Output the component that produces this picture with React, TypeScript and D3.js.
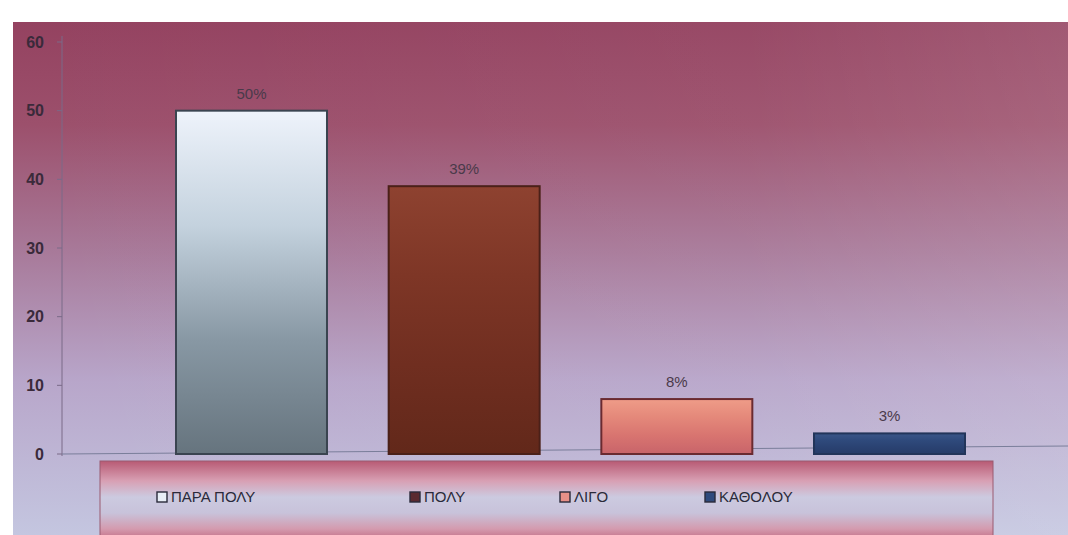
import React from "react";
import * as d3 from "d3";

const categories = ["ΠΑΡΑ ΠΟΛΥ", "ΠΟΛΥ", "ΛΙΓΟ", "ΚΑΘΟΛΟΥ"];
const values = [50, 39, 8, 3];
const valueLabels = ["50%", "39%", "8%", "3%"];
const yTicks = [0, 10, 20, 30, 40, 50, 60];

const W = 1068;
const H = 535;

const barGrads = [
  { id: "g0", stops: ["#eef3fb", "#c4d2de", "#8898a4", "#66747e"] },
  { id: "g1", stops: ["#8e4230", "#7e3626", "#702e20", "#62281a"] },
  { id: "g2", stops: ["#ef9c88", "#e4887a", "#d87470", "#c8646a"] },
  { id: "g3", stops: ["#3a5688", "#2f4a7c", "#2a4272", "#263c68"] },
];
const barStroke = ["#3a4450", "#4a2018", "#6a2a30", "#22355a"];
const legendFill = ["#e8eef6", "#5a2a30", "#e89088", "#2f4a7c"];

export default function App() {
  const x = d3
    .scaleBand<string>()
    .domain(categories)
    .range([176, 965])
    .paddingInner(0.29)
    .paddingOuter(0);
  const y = d3.scaleLinear().domain([0, 60]).range([454, 42]);

  const legendX = d3.scaleOrdinal<string, number>().domain(categories).range([157, 410, 560, 705]);

  return (
    <svg
      width={W}
      height={H}
      style={{ position: "absolute", left: 0, top: 0, display: "block" }}
      fontFamily="Liberation Sans, Arial, sans-serif"
    >
      <defs>
        <linearGradient id="bg" x1="0" y1="0" x2="0" y2="1">
          <stop offset="0" stopColor="#944260" />
          <stop offset="0.2" stopColor="#9c506c" />
          <stop offset="0.45" stopColor="#a87a9a" />
          <stop offset="0.7" stopColor="#b8a6ca" />
          <stop offset="1" stopColor="#c4c6e0" />
        </linearGradient>
        <linearGradient id="bgH" x1="0" y1="0" x2="1" y2="0">
          <stop offset="0" stopColor="#ffffff" stopOpacity="0" />
          <stop offset="0.7" stopColor="#ffffff" stopOpacity="0.04" />
          <stop offset="1" stopColor="#ffffff" stopOpacity="0.12" />
        </linearGradient>
        <linearGradient id="leg" x1="0" y1="0" x2="0" y2="1">
          <stop offset="0" stopColor="#b85a74" />
          <stop offset="0.25" stopColor="#d8a0b4" />
          <stop offset="0.45" stopColor="#cccae0" />
          <stop offset="0.65" stopColor="#c8c2da" />
          <stop offset="0.85" stopColor="#d49aae" />
          <stop offset="1" stopColor="#c06880" />
        </linearGradient>
        {barGrads.map((g) => (
          <linearGradient key={g.id} id={g.id} x1="0" y1="0" x2="0" y2="1">
            {g.stops.map((c, i) => (
              <stop key={i} offset={i / (g.stops.length - 1)} stopColor={c} />
            ))}
          </linearGradient>
        ))}
      </defs>

      <rect x={0} y={0} width={W} height={H} fill="#ffffff" />
      <rect x={13} y={22} width={W - 13} height={H - 22} fill="url(#bg)" />
      <rect x={13} y={22} width={W - 13} height={H - 22} fill="url(#bgH)" />

      {/* axes */}
      <line x1={62} x2={62} y1={y(60) - 6} y2={y(0) + 2} stroke="#7a6a88" strokeWidth={1} />
      <line x1={62} x2={W} y1={y(0)} y2={y(0) - 8} stroke="#7a7e9a" strokeWidth={1} />
      {yTicks.map((t) => (
        <g key={t}>
          <line x1={57} x2={62} y1={y(t)} y2={y(t)} stroke="#7a6a88" />
          <text
            x={44}
            y={y(t)}
            dy="0.35em"
            textAnchor="end"
            fontSize={16}
            fontWeight="bold"
            fill="#3a2a3a"
          >
            {t}
          </text>
        </g>
      ))}

      {/* bars */}
      {categories.map((c, i) => (
        <g key={c}>
          <rect
            x={x(c)}
            y={y(values[i])}
            width={x.bandwidth()}
            height={y(0) - y(values[i])}
            fill={`url(#${barGrads[i].id})`}
            stroke={barStroke[i]}
            strokeWidth={2}
          />
          <text
            x={(x(c) as number) + x.bandwidth() / 2}
            y={y(values[i]) - 12}
            textAnchor="middle"
            fontSize={15}
            fill="#4a3a4a"
          >
            {valueLabels[i]}
          </text>
        </g>
      ))}

      {/* legend */}
      <rect x={100} y={461} width={893} height={80} fill="url(#leg)" stroke="#9a5a70" strokeWidth={1} />
      {categories.map((c, i) => (
        <g key={c}>
          <rect
            x={legendX(c)}
            y={492}
            width={10}
            height={10}
            fill={legendFill[i]}
            stroke="#2a2a3a"
            strokeWidth={1.4}
          />
          <text
            x={legendX(c) + 14}
            y={497}
            dy="0.35em"
            fontSize={15}
            fill="#2a2a3a"
          >
            {c}
          </text>
        </g>
      ))}
    </svg>
  );
}
